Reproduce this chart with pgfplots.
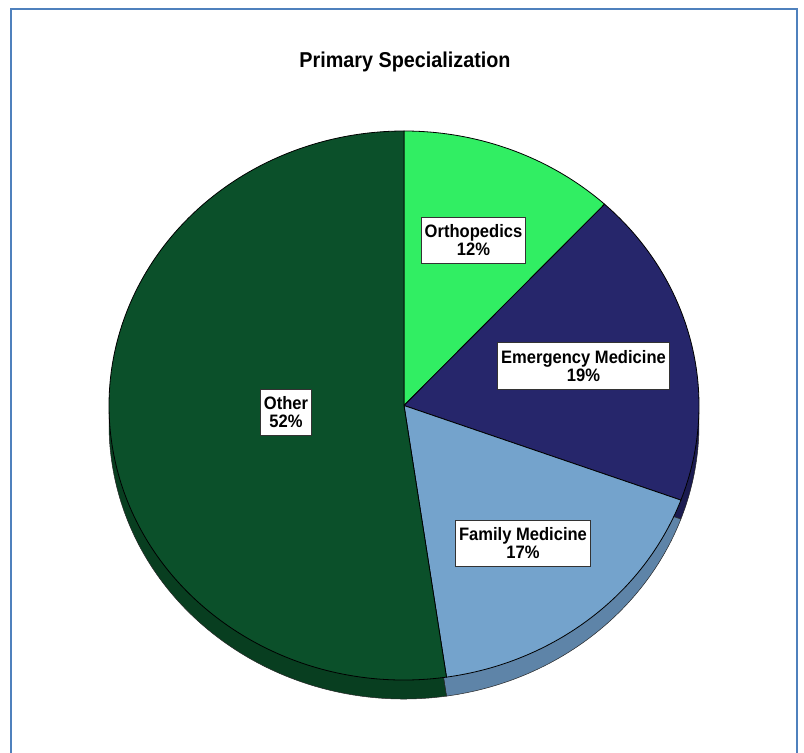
\documentclass[border=0pt]{standalone}
\usepackage{pgfplots}
\pgfplotsset{compat=1.18}
\usepackage{pgfplotstable}
\usepackage{fontspec}
\setmainfont{Liberation Sans}
\usepackage{graphicx}

\definecolor{cOrtho}{RGB}{49,238,99}
\definecolor{cEmerg}{RGB}{38,38,107}
\definecolor{cFam}{RGB}{116,163,204}
\definecolor{cOther}{RGB}{11,80,42}
\definecolor{cOrthoS}{RGB}{30,170,70}
\definecolor{cEmergS}{RGB}{27,27,80}
\definecolor{cFamS}{RGB}{94,132,168}
\definecolor{cOtherS}{RGB}{8,62,32}
\definecolor{frameblue}{RGB}{79,129,189}

\pgfplotstableread{
name value
Orthopedics 11.9
Emergency 18.7
Family 17.1
Other 52.3
}\pietable

\newcommand\getv[2]{\pgfplotstablegetelem{#1}{value}\of\pietable\global\let#2\pgfplotsretval}
\newcommand\labfont{\fontsize{18}{18}\selectfont\bfseries}
\newcommand\sq[1]{\scalebox{0.92}[1]{#1}}

\begin{document}%
\begin{tikzpicture}
\getv{0}\vA
\getv{1}\vB
\getv{2}\vC
\getv{3}\vD
\pgfmathsetmacro\aA{90}
\pgfmathsetmacro\aB{\aA-3.6*\vA}
\pgfmathsetmacro\aC{\aB-3.6*\vB}
\pgfmathsetmacro\aD{\aC-3.6*\vC}
\pgfmathsetmacro\aE{\aD-3.6*\vD}
\def\cx{404}\def\cy{347.5}\def\rx{295}\def\ry{274.5}\def\dep{19}
\pgfmathsetmacro\cys{\cy-\dep}
\pgfmathsetmacro\xA{\cx+\rx*cos(\aA)}\pgfmathsetmacro\yA{\cy+\ry*sin(\aA)}
\pgfmathsetmacro\xB{\cx+\rx*cos(\aB)}\pgfmathsetmacro\yB{\cy+\ry*sin(\aB)}
\pgfmathsetmacro\xC{\cx+\rx*cos(\aC)}\pgfmathsetmacro\yC{\cy+\ry*sin(\aC)}
\pgfmathsetmacro\xD{\cx+\rx*cos(\aD)}\pgfmathsetmacro\yD{\cy+\ry*sin(\aD)}
\pgfmathsetmacro\yAs{\yA-\dep}\pgfmathsetmacro\yBs{\yB-\dep}
\pgfmathsetmacro\yCs{\yC-\dep}\pgfmathsetmacro\yDs{\yD-\dep}
\useasboundingbox (0,0) rectangle (804pt,753pt);
\begin{axis}[
  at={(0,0)}, anchor=south west,
  scale only axis, width=804pt, height=753pt,
  xmin=0, xmax=804, ymin=0, ymax=753,
  enlargelimits=false, hide axis,
]
% border
\draw[frameblue, line width=1.6pt] (axis cs:11,0) -- (axis cs:11,744) -- (axis cs:797,744) -- (axis cs:797,0);
% title
\node[font=\fontsize{21.5}{22}\selectfont\bfseries] at (axis cs:405,691) {\sq{Primary Specialization}};
% sides (extrusion)
\filldraw[fill=cEmergS, draw=black!85, line width=0.5pt] (axis cs:\cx,\cys) -- (axis cs:\xB,\yBs) arc[start angle=\aB, end angle=\aC, x radius=\rx pt, y radius=\ry pt] -- cycle;
\filldraw[fill=cFamS, draw=black!85, line width=0.5pt] (axis cs:\cx,\cys) -- (axis cs:\xC,\yCs) arc[start angle=\aC, end angle=\aD, x radius=\rx pt, y radius=\ry pt] -- cycle;
\filldraw[fill=cOtherS, draw=black!85, line width=0.5pt] (axis cs:\cx,\cys) -- (axis cs:\xD,\yDs) arc[start angle=\aD, end angle=\aE, x radius=\rx pt, y radius=\ry pt] -- cycle;
% top faces
\filldraw[fill=cOrtho, draw=black, line width=0.8pt] (axis cs:\cx,\cy) -- (axis cs:\xA,\yA) arc[start angle=\aA, end angle=\aB, x radius=\rx pt, y radius=\ry pt] -- cycle;
\filldraw[fill=cEmerg, draw=black, line width=0.8pt] (axis cs:\cx,\cy) -- (axis cs:\xB,\yB) arc[start angle=\aB, end angle=\aC, x radius=\rx pt, y radius=\ry pt] -- cycle;
\filldraw[fill=cFam, draw=black, line width=0.8pt] (axis cs:\cx,\cy) -- (axis cs:\xC,\yC) arc[start angle=\aC, end angle=\aD, x radius=\rx pt, y radius=\ry pt] -- cycle;
\filldraw[fill=cOther, draw=black, line width=0.8pt] (axis cs:\cx,\cy) -- (axis cs:\xD,\yD) arc[start angle=\aD, end angle=\aE, x radius=\rx pt, y radius=\ry pt] -- cycle;
% labels
\tikzset{lab/.style={draw=black!80, line width=0.8pt, fill=white, inner xsep=3.5pt, inner ysep=7.5pt, align=center, font=\labfont}}
\node[lab] at (axis cs:473.5,513) {\sq{Orthopedics}\\\sq{12\%}};
\node[lab] at (axis cs:583.5,387) {\sq{Emergency Medicine}\\\sq{19\%}};
\node[lab] at (axis cs:523,210) {\sq{Family Medicine}\\\sq{17\%}};
\node[lab] at (axis cs:286,340.5) {\sq{Other}\\\sq{52\%}};
\end{axis}
\end{tikzpicture}%
\end{document}
